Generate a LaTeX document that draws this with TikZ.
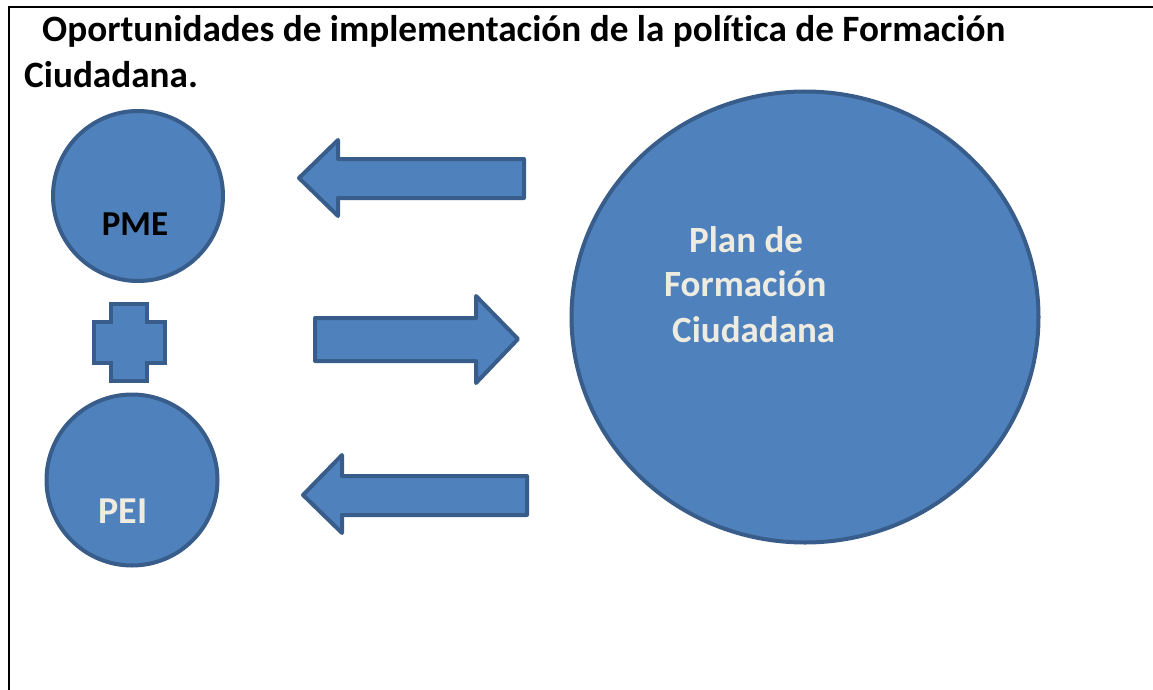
\documentclass[tikz,border=0pt]{standalone}
\usepackage{fontspec}
\setmainfont{Carlito}[Ligatures=NoCommon]
\definecolor{fillblue}{HTML}{4F81BD}
\definecolor{lineblue}{HTML}{385D8A}
\definecolor{cream}{HTML}{EEECE1}
\usetikzlibrary{shapes.geometric}
\begin{document}
\begin{tikzpicture}[x=1pt,y=-1pt,
  shapeblue/.style={fill=fillblue,draw=lineblue,line width=4pt,line join=round},
  titletext/.style={anchor=base west,inner sep=0pt,font=\fontsize{37.2}{44}\selectfont\bfseries},
  plantext/.style={anchor=base west,inner sep=0pt,text=cream,font=\fontsize{37}{45}\selectfont\bfseries},
]
\useasboundingbox (0,0) rectangle (1153,690);
% frame
\draw[line width=2.6pt] (9,692) -- (9,7) -- (1155,7);
% title
\node[titletext] (t1) at (42,42) {Oportunidades de implementación de la política de Formación};
\node[titletext] (t2) at (24,88) {Ciudadana.};
% circles
\node[shapeblue,circle,minimum size=170pt,inner sep=0pt] (pme) at (138,196) {};
\node[anchor=base,inner sep=0pt,font=\fontsize{35}{42}\selectfont\bfseries] (pmetxt) at (135,235) {PME};
\node[shapeblue,circle,minimum size=171pt,inner sep=0pt] (pei) at (132,480) {};
\node[anchor=base,inner sep=0pt,text=cream,font=\fontsize{38}{46}\selectfont\bfseries] (peitxt) at (123,523) {PEI};
\node[shapeblue,ellipse,minimum width=467pt,minimum height=451pt,inner sep=0pt] (plan) at (805,317) {};
\node[plantext] (p1) at (689,252) {Plan de};
\node[plantext] (p2) at (664,296) {Formación};
\node[plantext] (p3) at (672,342) {Ciudadana};
% plus sign
\draw[shapeblue,line join=miter] (111,304) -- (147,304) -- (147,322) -- (165,322) -- (165,363) -- (147,363)
  -- (147,381) -- (111,381) -- (111,363) -- (94,363) -- (94,322) -- (111,322) -- cycle;
% arrows
\draw[shapeblue] (299,178) -- (338,140) -- (338,159) -- (524,159) -- (524,198) -- (338,198) -- (338,216) -- cycle;
\draw[shapeblue] (315,318) -- (476,318) -- (476,296) -- (518,339) -- (476,383) -- (476,361) -- (315,361) -- cycle;
\draw[shapeblue] (303,495) -- (342,455) -- (342,476) -- (527,476) -- (527,515) -- (342,515) -- (342,533) -- cycle;
\end{tikzpicture}
\end{document}
